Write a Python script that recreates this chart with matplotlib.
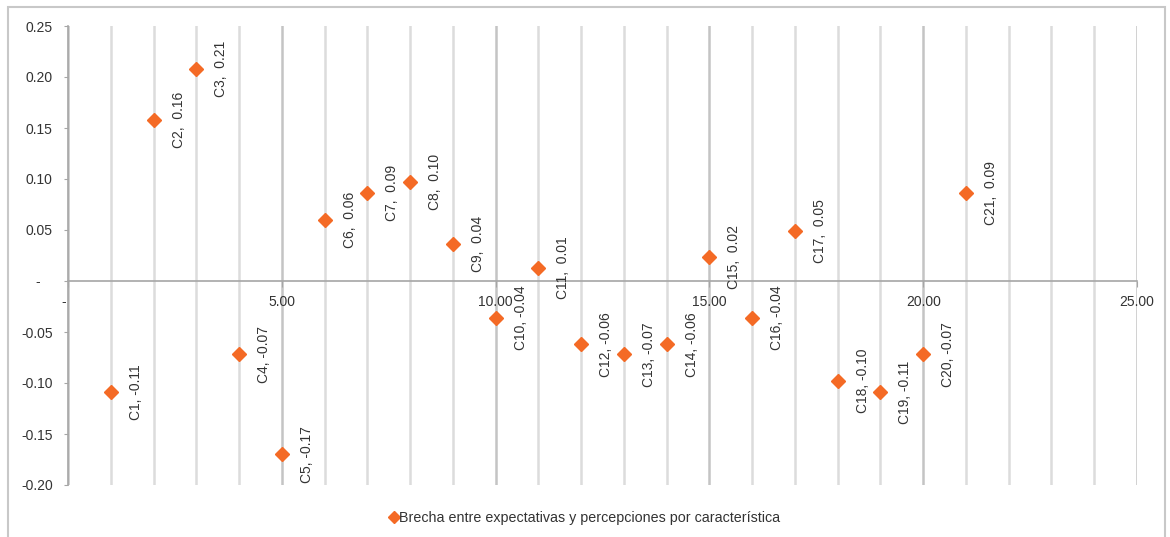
import matplotlib
matplotlib.use('Agg')
from matplotlib import pyplot as plt
from matplotlib.patches import Rectangle
from matplotlib.ticker import FuncFormatter, MultipleLocator

plt.rcParams['font.family'] = ['Liberation Sans', 'DejaVu Sans']

# brecha por característica (C1..C21)
CATEGORIES = [f'C{i}' for i in range(1, 22)]
X_POS = list(range(1, 22))
GAPS = [-0.109, 0.158, 0.208, -0.072, -0.170, 0.060, 0.086, 0.097, 0.036, -0.036,
        0.013, -0.062, -0.072, -0.062, 0.024, -0.036, 0.049, -0.098, -0.109, -0.072,
        0.086]
SERIES_NAME = 'Brecha entre expectativas y percepciones por característica'

ORANGE = '#F46A25'
TEXT = '#333333'
GRID_MINOR = '#dcdcdc'
GRID_MAJOR = '#c4c4c4'
AXIS = '#a6a6a6'


def excel_num(v, _pos=None):
    if abs(v) < 1e-9:
        return '-  '
    return f'{v:.2f}'


def y_label(v, _pos=None):
    if abs(v) < 1e-9:
        return '-   '
    return f'{v:.2f}'


def point_label(name, v):
    # positivos llevan un espacio extra en lugar del signo
    return f'{name},  {v:.2f}' if v >= 0 else f'{name}, {v:.2f}'


fig = plt.figure(figsize=(11.70, 5.37), dpi=100)
ax = fig.add_axes([68 / 1170, 1 - 485 / 537, (1137 - 68) / 1170, (485 - 26) / 537])

ax.set_xlim(0, 25)
ax.set_ylim(-0.20, 0.25)

# rejilla vertical: menor cada 1, mayor cada 5
ax.xaxis.set_major_locator(MultipleLocator(5))
ax.xaxis.set_minor_locator(MultipleLocator(1))
ax.yaxis.set_major_locator(MultipleLocator(0.05))
ax.grid(True, axis='x', which='minor', color=GRID_MINOR, lw=1.8, zorder=0)
ax.grid(True, axis='x', which='major', color=GRID_MAJOR, lw=1.8, zorder=0)

ax.spines['top'].set_visible(False)
ax.spines['right'].set_visible(False)
ax.spines['bottom'].set_position(('data', 0))
ax.spines['bottom'].set_color(AXIS)
ax.spines['left'].set_color(AXIS)
ax.spines['bottom'].set_linewidth(1.2)
ax.spines['left'].set_linewidth(1.2)

ax.xaxis.set_major_formatter(FuncFormatter(excel_num))
ax.yaxis.set_major_formatter(FuncFormatter(y_label))
ax.tick_params(axis='x', which='major', length=4, pad=6, color=AXIS,
               labelsize=10, labelcolor=TEXT)
ax.tick_params(axis='x', which='minor', length=0)
ax.tick_params(axis='y', length=3, pad=8, color=AXIS, labelsize=10, labelcolor=TEXT)

ax.plot(X_POS, GAPS, linestyle='none', marker='D', markersize=7,
        color=ORANGE, markeredgecolor=ORANGE, label=SERIES_NAME, zorder=3,
        clip_on=False)

for name, x, v in zip(CATEGORIES, X_POS, GAPS):
    ax.annotate(point_label(name, v), (x, v), xytext=(18, 0),
                textcoords='offset points', rotation=90,
                ha='center', va='center', fontsize=10, color=TEXT)

fig.legend(loc='center', bbox_to_anchor=(0.5, 1 - 518 / 537), frameon=False,
           handlelength=0.6, handletextpad=0.1, fontsize=10.3, labelcolor=TEXT,
           markerscale=0.85)

# marco exterior del gráfico
fig.patches.append(Rectangle((8 / 1170, -0.02), 1157 / 1170, 1.02 - 7 / 537,
                             transform=fig.transFigure, fill=False,
                             edgecolor='#c8c8c8', lw=1.5))

plt.savefig('out.png', dpi=100)
plt.close()
